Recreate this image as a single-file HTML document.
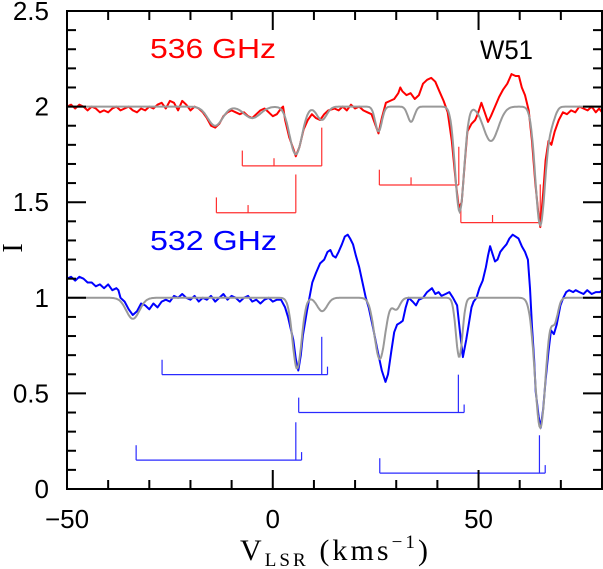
<!DOCTYPE html>
<html><head><meta charset="utf-8"><style>
html,body{margin:0;padding:0;background:#fff;}
svg{display:block;font-family:"Liberation Sans",sans-serif;}
</style></head><body>
<svg id="chart" width="603" height="569" viewBox="0 0 603 569" xmlns="http://www.w3.org/2000/svg">
<g id="plot"></g>
<g id="axes"></g>
<text x="150" y="58" fill="#ff0000" font-size="28" textLength="126" lengthAdjust="spacingAndGlyphs">536 GHz</text>
<text x="150" y="250" fill="#0000ff" font-size="28" textLength="127" lengthAdjust="spacingAndGlyphs">532 GHz</text>
<text x="480" y="59" fill="#000" font-size="27" textLength="53" lengthAdjust="spacingAndGlyphs">W51</text>
<text x="0" y="0" font-size="28" font-family="Liberation Serif,serif" text-anchor="middle" transform="translate(22,248) rotate(-90)">I</text>
<text x="240" y="560" font-size="30" font-family="Liberation Serif,serif" textLength="188" lengthAdjust="spacing">V<tspan font-size="19" dy="6">LSR</tspan><tspan dy="-6"> (kms</tspan><tspan font-size="19" dy="-12">−1</tspan><tspan dy="12">)</tspan></text>
</svg>
<script>
// ---- data ----
const xTicksMajor = [-50, 0, 50];
const yTicksMajor = [0, 0.5, 1, 1.5, 2, 2.5];
const xTickLabels = ["−50", "0", "50"];
const yTickLabels = ["0", "0.5", "1", "1.5", "2", "2.5"];

const redV = [-50,-49,-48,-47,-46,-45,-44,-43,-42,-41,-40,-39,-38,-37,-36,-35,-34,-33,-32,-31,-30,-29,-28,-27,-26,-25,-24,-23,-22,-21,-20,-19,-18,-17,-16,-15,-14,-13,-12,-11,-10,-9,-8,-7,-6,-5,-4,-3,-2,-1,0,1,2,2.5,3,4,5,5.6,6.5,7.5,8.5,9.5,10.5,11.5,12.5,13.5,15,16,17,18,19,20,21,22,23,24,25,25.7,26.5,27.5,28.5,29.5,30.5,31,31.5,32.5,33.5,34.5,35.5,36.5,37.5,38.5,39.5,40.5,41.5,42.5,43.5,44.5,45.2,45.9,46.7,47.3,48.3,49.2,49.8,50.7,51.5,52.3,53,54,55,56,57,58,59,59.8,60.5,61.3,62.2,63,63.8,64.5,65,65.7,66.3,67,67.7,68.5,69.5,70.5,71.5,72.5,73.5,74.5,75.5,76.5,77.5,78.5,79.3,80];
const redI = [2.0,2.01,1.99,2.01,2.0,1.98,2.0,1.99,1.97,1.98,1.97,1.99,2.0,1.98,1.99,2.0,1.98,1.97,1.99,1.98,2.0,1.99,2.01,2.02,1.99,2.03,2.02,1.98,2.03,2.01,1.98,2.0,1.99,1.97,1.94,1.9,1.89,1.91,1.95,1.97,1.98,1.97,1.96,1.97,1.95,1.94,1.96,1.98,1.99,1.97,1.95,1.96,1.99,2.0,1.93,1.84,1.78,1.74,1.79,1.88,1.93,1.96,1.94,1.93,1.96,1.98,1.99,1.98,2.0,1.98,2.01,1.99,2.0,1.98,1.97,1.96,1.9,1.86,1.94,2.02,2.03,2.04,2.07,2.1,2.08,2.06,2.07,2.04,2.06,2.12,2.14,2.15,2.13,2.08,2.03,1.97,1.82,1.6,1.47,1.5,1.72,1.87,1.91,1.93,1.96,2.02,1.97,1.92,1.95,2.0,2.05,2.09,2.12,2.17,2.16,2.16,2.1,2.06,1.98,1.82,1.6,1.45,1.37,1.55,1.72,1.82,1.80,1.87,1.93,1.97,1.96,1.98,1.97,2.0,1.99,1.98,2.0,1.97,1.99,1.97];

const blueV = [-50,-49,-48,-47,-46,-45,-44,-43,-42,-41,-40,-39,-38,-37.5,-37,-36,-35,-34,-33,-32,-31,-30,-29,-28,-27,-26,-25,-24,-23,-22,-21,-20,-19,-18,-17,-16,-15,-14,-13,-12,-11,-10,-9,-8,-7,-6,-5,-4,-3,-2,-1,0,1,2,3,3.7,5,5.6,6.2,6.8,7.3,8.3,9.6,10.5,11.5,12.5,13.3,14,14.6,15.3,16,16.8,17.5,18.2,18.8,19.5,20.2,21,21.8,22.6,23.3,24.3,25.5,26.5,27.4,28,28.8,29.5,30.2,31,31.6,32.3,33,34,34.8,35.5,36.5,37.5,38.7,39.5,40.3,41,42,42.9,43.8,44.8,45.5,46.2,47,47.6,48.3,48.8,49.5,50.2,51,51.8,52.3,52.8,53.4,54,54.6,55.3,56,56.8,57.5,58.3,59,59.7,60.5,61.3,62,62.5,63,63.5,63.9,64.6,65.1,65.7,66.3,67,67.6,68.3,69,69.9,70.6,71.3,72,73,73.6,74.5,75.5,76.4,77.5,78.5,79.5,80];
const blueI = [1.10,1.11,1.09,1.11,1.10,1.08,1.08,1.06,1.07,1.05,1.07,1.04,1.05,1.04,1.0,0.98,0.94,0.91,0.93,0.97,0.96,0.94,0.97,0.95,0.98,0.99,0.98,1.01,1.0,1.02,1.0,0.99,1.01,0.98,1.0,0.99,1.01,0.98,1.0,1.02,0.99,1.01,1.0,0.98,1.0,1.01,0.98,0.99,0.97,0.99,1.0,0.98,0.99,0.99,0.95,0.9,0.78,0.68,0.62,0.7,0.8,0.93,1.08,1.13,1.18,1.2,1.24,1.25,1.22,1.21,1.24,1.28,1.32,1.33,1.31,1.28,1.22,1.16,1.08,1.0,0.95,0.85,0.72,0.62,0.56,0.6,0.72,0.82,0.86,0.87,0.88,0.95,1.0,0.98,0.96,0.99,1.0,1.03,1.05,1.02,1.03,1.01,1.02,1.03,1.0,0.96,0.82,0.69,0.78,0.86,0.95,0.98,1.0,1.05,1.09,1.16,1.22,1.27,1.23,1.19,1.2,1.24,1.26,1.28,1.31,1.33,1.32,1.31,1.27,1.24,1.2,1.05,0.85,0.68,0.51,0.38,0.32,0.42,0.57,0.72,0.83,0.81,0.86,0.96,1.0,1.03,1.04,1.03,1.04,1.03,1.02,1.04,1.02,1.03,1.03,1.04];

// model components: centre velocity, depth, width
const redModelV = [-14, -5, 5.6, 11.9, 25.7, 33.6, 45.4, 53, 65, 67.8];
const redModelDepth = [0.1, 0.06, 0.25, 0.07, 0.13, 0.08, 0.55, 0.18, 0.62, 0.07];
const redModelWidth = [1.8, 2.0, 1.5, 1.2, 0.8, 0.8, 1.1, 1.8, 1.2, 0.9];
const blueModelV = [-34, 5.9, 12, 26, 30, 45.3, 65, 68.5];
const blueModelDepth = [0.11, 0.37, 0.07, 0.32, 0.06, 0.31, 0.68, 0.12];
const blueModelWidth = [1.6, 1.1, 1.2, 1.3, 0.9, 0.8, 1.3, 0.8];

// hyperfine marker bars
const redHfsMain = [11.9, 5.6, 45.2, 65.0];
const redHfsLevel = [1.69, 1.445, 1.59, 1.393];
const redHfsOffsets = [-19.3, -11.6, 0];
const redHfsHeights = [0.08, 0.04, 0.2];
const blueHfsMain = [11.9, 45.1, 5.6, 64.8];
const blueHfsLevel = [0.598, 0.40, 0.151, 0.083];
const blueHfsOffsets = [-38.8, 0, 1.4];
const blueHfsHeights = [0.078, 0.198, 0.042];

// ---- scales ----
const X0 = 67, X1 = 602, Y0 = 489, Y1 = 11;
const vMin = -50, vMax = 80, iMin = 0, iMax = 2.5;
function sx(v){ return X0 + (v - vMin) / (vMax - vMin) * (X1 - X0); }
function sy(i){ return Y0 - (i - iMin) / (iMax - iMin) * (Y0 - Y1); }
const NS = "http://www.w3.org/2000/svg";
const plot = document.getElementById('plot');
const axes = document.getElementById('axes');
function mk(tag, attrs, parent){ const e = document.createElementNS(NS, tag); for (const k in attrs) e.setAttribute(k, attrs[k]); parent.appendChild(e); return e; }

function model(base, cv, dp, wd, v){
  let s = base;
  for (let k = 0; k < cv.length; k++) s -= dp[k] * Math.exp(-0.5 * Math.pow((v - cv[k]) / wd[k], 2));
  return s;
}
function modelPath(base, cv, dp, wd){
  let d = '';
  for (let v = vMin; v <= vMax + 1e-9; v += 0.2) d += (d ? 'L' : 'M') + sx(v).toFixed(1) + ',' + sy(model(base, cv, dp, wd, v)).toFixed(1);
  return d;
}
function dataPath(vs, is){
  return vs.map((v, k) => (k ? 'L' : 'M') + sx(v).toFixed(1) + ',' + sy(is[k]).toFixed(1)).join('');
}
function hfs(mains, levels, offs, hts, color, prefix){
  mains.forEach((m, k) => {
    const g = mk('g', {}, plot);
    
    
    const xs = offs.map(o => sx(m + o));
    const y = sy(levels[k]);
    const ln = mk('line', {x1: Math.min(...xs), x2: Math.max(...xs), y1: y, y2: y, stroke: color, 'stroke-width': 1.2}, g);
    
    
    xs.forEach((x, j) => {
      const t = mk('line', {x1: x, x2: x, y1: y, y2: sy(levels[k] + hts[j]), stroke: color, 'stroke-width': 1.2}, g);
      
      
    });
  });
}

hfs(redHfsMain, redHfsLevel, redHfsOffsets, redHfsHeights, '#ff3030', 'red');
hfs(blueHfsMain, blueHfsLevel, blueHfsOffsets, blueHfsHeights, '#2a2aff', 'blue');

const rObs = mk('path', {d: dataPath(redV, redI), fill: 'none', stroke: '#ff0000', 'stroke-width': 2, 'stroke-linejoin': 'round'}, plot);


const bObs = mk('path', {d: dataPath(blueV, blueI), fill: 'none', stroke: '#0000ff', 'stroke-width': 2, 'stroke-linejoin': 'round'}, plot);


const rMod = mk('path', {d: modelPath(2.0, redModelV, redModelDepth, redModelWidth), fill: 'none', stroke: '#999999', 'stroke-width': 2}, plot);


const bMod = mk('path', {d: modelPath(1.0, blueModelV, blueModelDepth, blueModelWidth), fill: 'none', stroke: '#999999', 'stroke-width': 2}, plot);



// axes frame
const frame = mk('rect', {x: X0, y: Y1, width: X1 - X0, height: Y0 - Y1, fill: 'none', stroke: '#000', 'stroke-width': 2}, axes);


for (let v = -50; v <= 80; v += 10) {
  const major = xTicksMajor.includes(v);
  const L = major ? 19 : 9;
  const x = sx(v);
  const t1 = mk('line', {x1: x, x2: x, y1: Y0, y2: Y0 - L, stroke: '#000', 'stroke-width': 2}, axes);
  
  
  const t2 = mk('line', {x1: x, x2: x, y1: Y1, y2: Y1 + L, stroke: '#000', 'stroke-width': 2}, axes);
  
  
}
for (let k = 0; k <= 25; k++) {
  const i = k / 10;
  const major = k % 5 === 0;
  const L = major ? 19 : 9;
  const y = sy(i);
  const t1 = mk('line', {x1: X0, x2: X0 + L, y1: y, y2: y, stroke: '#000', 'stroke-width': 2}, axes);
  
  
  const t2 = mk('line', {x1: X1, x2: X1 - L, y1: y, y2: y, stroke: '#000', 'stroke-width': 2}, axes);
  
  
}
xTicksMajor.forEach((v, k) => {
  const t = mk('text', {x: sx(v), y: 528, 'text-anchor': 'middle', 'font-size': 26}, axes);
  t.textContent = xTickLabels[k];
  
  
});
yTicksMajor.forEach((i, k) => {
  const t = mk('text', {x: 49, y: sy(i) + 9, 'text-anchor': 'end', 'font-size': 26}, axes);
  t.textContent = yTickLabels[k];
  
  
});
</script>
</body></html>
